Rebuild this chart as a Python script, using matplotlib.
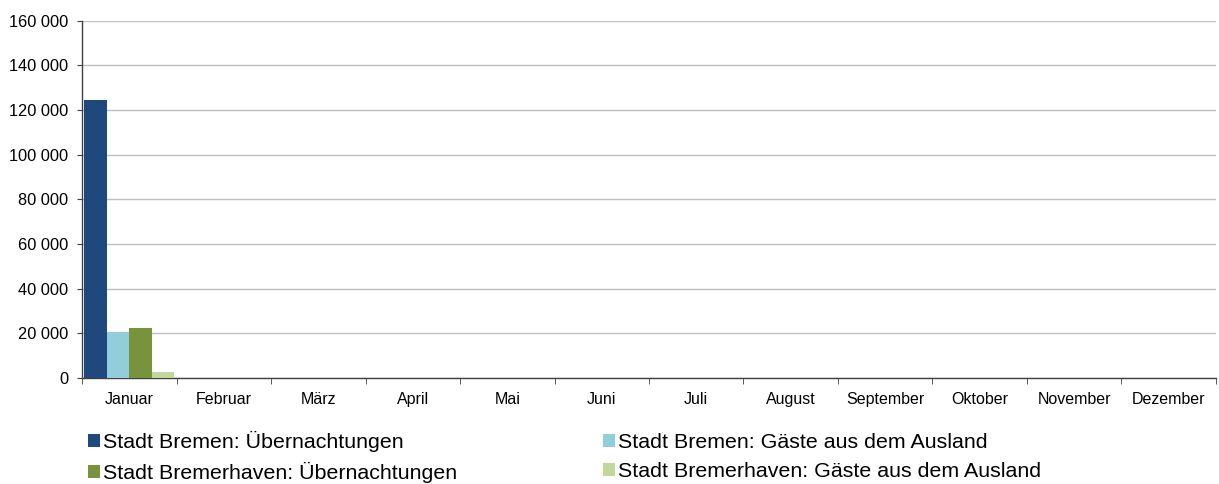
import matplotlib
matplotlib.use("Agg")
import matplotlib.pyplot as plt
import numpy as np
from matplotlib.ticker import FuncFormatter

months = ["Januar", "Februar", "März", "April", "Mai", "Juni", "Juli",
          "August", "September", "Oktober", "November", "Dezember"]
series_names = ["Stadt Bremen: Übernachtungen", "Stadt Bremen: Gäste aus dem Ausland",
                "Stadt Bremerhaven: Übernachtungen", "Stadt Bremerhaven: Gäste aus dem Ausland"]
bremen_uebernachtungen = [124400] + [0] * 11
bremen_ausland = [20600] + [0] * 11
bremerhaven_uebernachtungen = [22400] + [0] * 11
bremerhaven_ausland = [2800] + [0] * 11
colors = ["#1F497D", "#92CDDC", "#77933C", "#C3D69B"]

plt.rcParams['font.family'] = ['Liberation Sans', 'DejaVu Sans']

fig = plt.figure(figsize=(12.19, 4.84), dpi=100)
ax = fig.add_axes([0.0673, 0.219, 0.9302, 0.738])

data = [bremen_uebernachtungen, bremen_ausland, bremerhaven_uebernachtungen, bremerhaven_ausland]
x = np.arange(len(months))
w = 0.2375
handles = []
for i, (vals, c, name) in enumerate(zip(data, colors, series_names)):
    b = ax.bar(x - 0.475 + w * i + w / 2, vals, width=w, color=c, label=name, zorder=3)
    handles.append(b)

ax.set_xlim(-0.5, 11.5)
ax.set_ylim(0, 160000)
ax.set_yticks(np.arange(0, 160001, 20000))
ax.yaxis.set_major_formatter(FuncFormatter(lambda v, p: f"{int(v):,}".replace(",", " ")))
ax.set_xticks(x)
ax.set_xticklabels(months, fontsize=11.5)
ax.set_xticks(np.arange(-0.5, 12.0, 1), minor=True)
ax.tick_params(axis='x', which='major', length=0, pad=10)
ax.tick_params(axis='x', which='minor', length=4.3, color='#404040', direction='out')
ax.tick_params(axis='y', labelsize=11.8, length=3.6, color='#404040', pad=6.5)
ax.grid(axis='y', color='#BFBFBF', linewidth=1, zorder=0)
for s in ['top', 'right']:
    ax.spines[s].set_visible(False)
for s in ['left', 'bottom']:
    ax.spines[s].set_color('#404040')
    ax.spines[s].set_linewidth(1)

fs = 15.4
fs_px = fs * 100 / 72
handlelength = 0.56
handletextpad = 0.12
# measure longest label of the first legend column to place column 2 at x=603 px
tmp = fig.text(0, 0, series_names[2], fontsize=fs)
fig.canvas.draw()
tw = tmp.get_window_extent().width
tmp.remove()
col1_end = 88 + (handlelength + handletextpad) * fs_px + tw
colspacing = (603 - col1_end) / fs_px

order = [0, 2, 1, 3]
top = 1 - 431 / 484
fig.legend(handles=[handles[i] for i in order], labels=[series_names[i] for i in order],
           loc='upper left', bbox_to_anchor=(88 / 1219, top), ncol=2, frameon=False,
           fontsize=fs, borderpad=0, borderaxespad=0, handlelength=handlelength,
           handleheight=0.56, handletextpad=handletextpad, labelspacing=0.48,
           columnspacing=colspacing)

fig.savefig("out.png", dpi=100)
